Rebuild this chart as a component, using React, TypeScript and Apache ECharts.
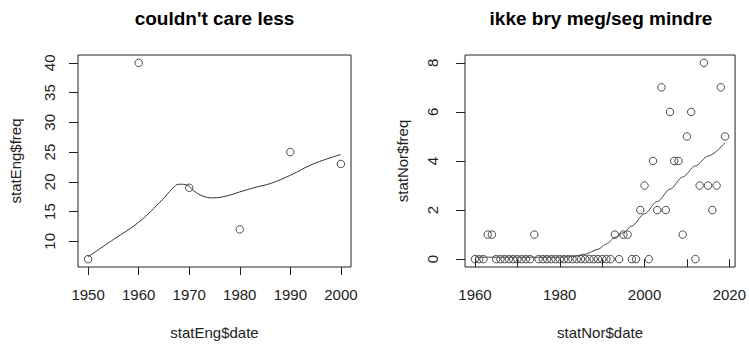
import React, { useEffect, useRef } from "react";
import * as echarts from "echarts";

const engYears = [1950, 1960, 1970, 1980, 1990, 2000];
const engFreq = [7, 40, 19, 12, 25, 23];
const engCurveYears = [1950, 1955, 1960, 1964.7, 1966.7, 1968, 1969.7, 1970.7, 1972.7, 1974.7, 1977.3, 1980, 1983.2, 1986, 1990, 1994.5, 2000];
const engCurveFreq = [7.4, 10.3, 13.2, 17.0, 18.9, 19.6, 19.4, 18.6, 17.6, 17.3, 17.6, 18.3, 19.1, 19.7, 21.1, 23.0, 24.6];

const norYears = [
  1960, 1961, 1962, 1963, 1964, 1965, 1966, 1967, 1968, 1969,
  1970, 1971, 1972, 1973, 1974, 1975, 1976, 1977, 1978, 1979,
  1980, 1981, 1982, 1983, 1984, 1985, 1986, 1987, 1988, 1989,
  1990, 1991, 1992, 1993, 1994, 1995, 1996, 1997, 1998, 1999,
  2000, 2001, 2002, 2003, 2004, 2005, 2006, 2007, 2008, 2009,
  2010, 2011, 2012, 2013, 2014, 2015, 2016, 2017, 2018, 2019,
];
const norFreq = [
  0, 0, 0, 1, 1, 0, 0, 0, 0, 0,
  0, 0, 0, 0, 1, 0, 0, 0, 0, 0,
  0, 0, 0, 0, 0, 0, 0, 0, 0, 0,
  0, 0, 0, 1, 0, 1, 1, 0, 0, 2,
  3, 0, 4, 2, 7, 2, 6, 4, 4, 1,
  5, 6, 0, 3, 8, 3, 2, 3, 7, 5,
];
const norCurveYears = [1960, 1970, 1980, 1983, 1986, 1989, 1991, 1993, 1995, 1997, 2000, 2003, 2006, 2009, 2012, 2015, 2019];
const norCurveFreq = [0.08, 0.08, 0.08, 0.1, 0.2, 0.4, 0.62, 0.88, 1.08, 1.35, 1.85, 2.35, 2.85, 3.35, 3.8, 4.2, 4.75];

const engXTicks = [1950, 1960, 1970, 1980, 1990, 2000];
const engYTicks = [10, 15, 20, 25, 30, 35, 40];
const norXTicks = [1960, 1970, 1980, 1990, 2000, 2010, 2020];
const norXLabels = [1960, 1980, 2000, 2020];
const norYTicks = [0, 2, 4, 6, 8];

const titles = ["couldn't care less", "ikke bry meg/seg mindre"];
const xNames = ["statEng$date", "statNor$date"];
const yNames = ["statEng$freq", "statNor$freq"];

const FONT = "Liberation Sans, Arial, sans-serif";
const INK = "#222";

function pairs(xs: number[], ys: number[]) {
  return xs.map((x, i) => [x, ys[i]]);
}

const plain = (v: number) => String(v);

function xAxis(grid: number, min: number, max: number, ticks: number[], labels: number[], name: string) {
  return {
    type: "value",
    gridIndex: grid,
    min,
    max,
    name,
    nameLocation: "middle",
    nameGap: 58,
    nameTextStyle: { fontFamily: FONT, fontSize: 15, color: INK },
    axisLine: { show: false },
    splitLine: { show: false },
    axisTick: { show: true, customValues: ticks, length: 8, inside: false, lineStyle: { color: INK, width: 1 } },
    axisLabel: { customValues: labels, formatter: plain, fontFamily: FONT, fontSize: 15, color: INK, margin: 20 },
  };
}

function yAxis(grid: number, min: number, max: number, ticks: number[], name: string, margin: number) {
  return {
    type: "value",
    gridIndex: grid,
    min,
    max,
    name,
    nameLocation: "middle",
    nameGap: 55,
    nameTextStyle: { fontFamily: FONT, fontSize: 15, color: INK },
    axisLine: { show: false },
    splitLine: { show: false },
    axisTick: { show: true, customValues: ticks, length: 9, inside: false, lineStyle: { color: INK, width: 1 } },
    axisLabel: { customValues: ticks, formatter: plain, rotate: 90, fontFamily: FONT, fontSize: 15, color: INK, margin },
  };
}

export default function App() {
  const ref = useRef<HTMLDivElement>(null);
  useEffect(() => {
    if (!ref.current) return;
    const chart = echarts.init(ref.current, undefined, { renderer: "svg" });
    const scatterStyle = { color: "transparent", borderColor: INK, borderWidth: 1 };
    chart.setOption({
      animation: false,
      backgroundColor: "#fff",
      grid: [
        { left: 78, top: 55, width: 273, height: 217, show: true, borderColor: INK, borderWidth: 1, backgroundColor: "transparent" },
        { left: 465, top: 55, width: 272, height: 217, show: true, borderColor: INK, borderWidth: 1, backgroundColor: "transparent" },
      ],
      xAxis: [
        xAxis(0, 1948, 2002, engXTicks, engXTicks, xNames[0]),
        xAxis(1, 1957.64, 2021.36, norXTicks, norXLabels, xNames[1]),
      ],
      yAxis: [
        yAxis(0, 5.68, 41.32, engYTicks, yNames[0], 21),
        yAxis(1, -0.32, 8.32, norYTicks, yNames[1], 25),
      ],
      graphic: [
        { type: "text", x: 214.5, y: 18, style: { text: titles[0], textAlign: "center", textVerticalAlign: "middle", font: `bold 19px ${FONT}`, fill: "#000" } },
        { type: "text", x: 601, y: 18, style: { text: titles[1], textAlign: "center", textVerticalAlign: "middle", font: `bold 19px ${FONT}`, fill: "#000" } },
      ],
      series: [
        { type: "scatter", xAxisIndex: 0, yAxisIndex: 0, symbol: "circle", symbolSize: 7.5, itemStyle: scatterStyle, data: pairs(engYears, engFreq) },
        { type: "line", xAxisIndex: 0, yAxisIndex: 0, smooth: 0.4, showSymbol: false, lineStyle: { color: "#333", width: 1 }, data: pairs(engCurveYears, engCurveFreq) },
        { type: "scatter", xAxisIndex: 1, yAxisIndex: 1, symbol: "circle", symbolSize: 7.5, itemStyle: scatterStyle, data: pairs(norYears, norFreq) },
        { type: "line", xAxisIndex: 1, yAxisIndex: 1, smooth: 0.3, smoothMonotone: "x", showSymbol: false, lineStyle: { color: "#444", width: 1 }, data: pairs(norCurveYears, norCurveFreq) },
      ],
    });
    return () => chart.dispose();
  }, []);
  return <div ref={ref} style={{ position: "absolute", left: 0, top: 0, width: 749, height: 345 }} />;
}
